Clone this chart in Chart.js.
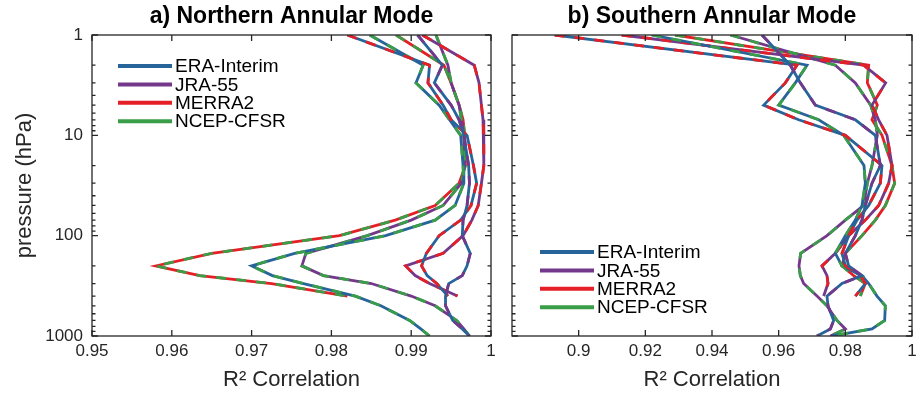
<!DOCTYPE html>
<html>
<head>
<meta charset="utf-8">
<script src="https://cdn.jsdelivr.net/npm/chart.js@4.4.1/dist/chart.umd.min.js"></script>
<style>
    body { margin: 0; background: #fff; }
    #wrap { position: relative; width: 916px; height: 395px; }
    canvas { position: absolute; top: 0; }
    #namChart { left: 0; }
    #samChart { left: 500px; }
</style>
</head>
<body>
<div id="wrap">
    <canvas id="namChart" width="500" height="395"></canvas>
    <canvas id="samChart" width="416" height="395"></canvas>
</div>
<script>
// Pressure levels (hPa), top of the atmosphere first
const levels = [1, 2, 3, 5, 7, 10, 20, 30, 50, 70, 100, 150, 200, 250, 300, 400, 500, 700, 850, 1000];

const reanalyses = ['ERA-Interim', 'JRA-55', 'MERRA2', 'NCEP-CFSR'];
const reanalysisColors = ['#27649a', '#74388b', '#e41f26', '#3a9d47'];

// R^2 of each reanalysis pair, Northern Annular Mode (null = no data)
const namEraJra    = [0.9908, 0.9939, 0.9929, 0.9950, 0.9960, 0.9966, 0.9972, 0.9973, 0.9970, 0.9965, 0.9964, 0.9974, 0.9970, 0.9964, 0.9947, 0.9943, 0.9943, 0.9952, 0.9964, 0.9973];
const namEraMerra  = [0.9820, 0.9923, 0.9921, 0.9940, 0.9950, 0.9970, 0.9978, 0.9982, 0.9975, 0.9962, 0.9935, 0.9919, 0.9913, 0.9920, 0.9932, 0.9946, null, null, null, null];
const namEraNcep   = [0.9848, 0.9915, 0.9906, 0.9935, 0.9948, 0.9962, 0.9965, 0.9966, 0.9955, 0.9930, 0.9868, 0.9754, 0.9700, 0.9726, 0.9765, 0.9830, 0.9862, 0.9898, 0.9912, 0.9923];
const namJraMerra  = [0.9914, 0.9979, 0.9985, 0.9988, 0.9990, 0.9991, 0.9991, 0.9988, 0.9984, 0.9976, 0.9965, 0.9940, 0.9893, 0.9905, 0.9923, 0.9958, null, null, null, null];
const namJraNcep   = [0.9931, 0.9946, 0.9950, 0.9960, 0.9963, 0.9966, 0.9967, 0.9963, 0.9940, 0.9900, 0.9845, 0.9768, 0.9763, 0.9790, 0.9850, 0.9900, 0.9930, 0.9957, 0.9966, 0.9973];
const namMerraNcep = [0.9881, 0.9941, 0.9950, 0.9960, 0.9965, 0.9967, 0.9968, 0.9960, 0.9930, 0.9880, 0.9810, 0.9650, 0.9580, 0.9635, 0.9725, 0.9820, null, null, null, null];

// R^2 of each reanalysis pair, Southern Annular Mode
const samEraJra    = [0.9550, 0.9635, 0.9665, 0.9710, 0.9830, 0.9890, 0.9905, 0.9880, 0.9860, 0.9850, 0.9830, 0.9800, 0.9810, 0.9850, 0.9790, 0.9745, 0.9748, 0.9765, 0.9755, 0.9715];
const samEraMerra  = [0.8928, 0.9655, 0.9620, 0.9555, 0.9660, 0.9800, 0.9910, 0.9905, 0.9870, 0.9835, 0.9810, 0.9790, 0.9800, 0.9845, 0.9860, 0.9830, null, null, null, null];
const samEraNcep   = [0.9219, 0.9685, 0.9650, 0.9600, 0.9720, 0.9795, 0.9856, 0.9860, 0.9850, 0.9830, 0.9800, 0.9770, 0.9790, 0.9850, 0.9870, 0.9895, 0.9920, 0.9918, 0.9880, 0.9760];
const samJraMerra  = [0.9129, 0.9855, 0.9921, 0.9880, 0.9900, 0.9925, 0.9940, 0.9930, 0.9900, 0.9860, 0.9810, 0.9770, 0.9730, 0.9745, 0.9748, 0.9735, null, null, null, null];
const samJraNcep   = [0.9455, 0.9770, 0.9830, 0.9876, 0.9890, 0.9896, 0.9880, 0.9866, 0.9855, 0.9800, 0.9745, 0.9666, 0.9661, 0.9665, 0.9675, 0.9715, 0.9745, 0.9775, 0.9800, 0.9755];
const samMerraNcep = [0.9289, 0.9870, 0.9866, 0.9896, 0.9880, 0.9910, 0.9940, 0.9948, 0.9920, 0.9890, 0.9850, 0.9800, 0.9790, 0.9825, 0.9860, 0.9845, null, null, null, null];

// Axis ticks
const pressureTicks = [1, 10, 100, 1000];
const pressureMinorTicks = [2, 3, 4, 5, 6, 7, 8, 9, 20, 30, 40, 50, 60, 70, 80, 90, 200, 300, 400, 500, 600, 700, 800, 900];
const namTicks = [0.95, 0.96, 0.97, 0.98, 0.99, 1];
const namTickLabels = ['0.95', '0.96', '0.97', '0.98', '0.99', '1'];
const samTicks = [0.9, 0.92, 0.94, 0.96, 0.98, 1];
const samTickLabels = ['0.9', '0.92', '0.94', '0.96', '0.98', '1'];

const FONT = "'Liberation Sans', Arial, Helvetica, sans-serif";
const INK = '#262626';

// One pair -> two datasets. Chart.js paints index 0 last, so the dashed
// second colour goes first and lands on top of the solid first colour.
function pairDatasets(values, a, b) {
    const pts = [];
    values.forEach((v, i) => {
        if (v !== null) pts.push({ x: v, y: levels[i] });
    });
    const base = { borderWidth: 2.8, pointRadius: 0, tension: 0, fill: false, label: reanalyses[a] + ' / ' + reanalyses[b] };
    return [
        Object.assign({}, base, { data: pts.map(p => ({ ...p })), borderColor: reanalysisColors[b], borderDash: [10, 10] }),
        Object.assign({}, base, { data: pts.map(p => ({ ...p })), borderColor: reanalysisColors[a] })
    ];
}

// Box round the plot, with inward ticks on all four sides
const framePlugin = {
    id: 'frame',
    afterDatasetsDraw(chart, args, opts) {
        const { ctx, chartArea: a, scales: { x, y } } = chart;
        ctx.save();
        ctx.strokeStyle = INK;
        ctx.lineWidth = 1.3;
        ctx.strokeRect(a.left, a.top, a.right - a.left, a.bottom - a.top);
        ctx.beginPath();
        opts.xTicks.forEach(v => {
            const px = x.getPixelForValue(v);
            ctx.moveTo(px, a.bottom); ctx.lineTo(px, a.bottom - 6);
            ctx.moveTo(px, a.top); ctx.lineTo(px, a.top + 6);
        });
        pressureTicks.forEach(v => {
            const py = y.getPixelForValue(v);
            ctx.moveTo(a.left, py); ctx.lineTo(a.left + 6, py);
            ctx.moveTo(a.right, py); ctx.lineTo(a.right - 6, py);
        });
        pressureMinorTicks.forEach(v => {
            const py = y.getPixelForValue(v);
            ctx.moveTo(a.left, py); ctx.lineTo(a.left + 3.5, py);
            ctx.moveTo(a.right, py); ctx.lineTo(a.right - 3.5, py);
        });
        ctx.stroke();
        ctx.restore();
    }
};

// Panel title centred over the plot area
const panelTitlePlugin = {
    id: 'panelTitle',
    afterDraw(chart, args, opts) {
        const { ctx, chartArea: a } = chart;
        ctx.save();
        ctx.fillStyle = '#000';
        ctx.font = 'bold 23px ' + FONT;
        ctx.textAlign = 'center';
        ctx.textBaseline = 'middle';
        ctx.fillText(opts.text, (a.left + a.right) / 2, 17);
        ctx.restore();
    }
};

// Legend drawn inside the plot area
const insideLegendPlugin = {
    id: 'insideLegend',
    afterDraw(chart, args, opts) {
        const { ctx, chartArea: a } = chart;
        ctx.save();
        ctx.font = '19px ' + FONT;
        ctx.textBaseline = 'middle';
        ctx.lineWidth = 4;
        reanalyses.forEach((name, i) => {
            const yy = a.top + opts.top + i * 18.4;
            const x0 = a.left + opts.left;
            ctx.strokeStyle = reanalysisColors[i];
            ctx.beginPath();
            ctx.moveTo(x0, yy);
            ctx.lineTo(x0 + 54, yy);
            ctx.stroke();
            ctx.fillStyle = '#000';
            ctx.fillText(name, x0 + 57, yy + 1);
        });
        ctx.restore();
    }
};

function makePanel(canvasId, cfg) {
    const datasets = [].concat(
        pairDatasets(cfg.series[0], 0, 1),
        pairDatasets(cfg.series[1], 0, 2),
        pairDatasets(cfg.series[2], 0, 3),
        pairDatasets(cfg.series[3], 1, 2),
        pairDatasets(cfg.series[4], 1, 3),
        pairDatasets(cfg.series[5], 2, 3)
    );
    return new Chart(document.getElementById(canvasId), {
        type: 'line',
        data: { datasets: datasets },
        plugins: [framePlugin, panelTitlePlugin, insideLegendPlugin],
        options: {
            responsive: false,
            animation: false,
            devicePixelRatio: 1,
            layout: { padding: { top: 35, right: cfg.padRight, bottom: 0, left: 0 } },
            plugins: {
                legend: { display: false },
                tooltip: { enabled: false },
                frame: { xTicks: cfg.xTicks },
                panelTitle: { text: cfg.title },
                insideLegend: cfg.legend
            },
            scales: {
                x: {
                    type: 'linear',
                    position: 'bottom',
                    min: cfg.xMin,
                    max: 1,
                    grid: { display: false, drawTicks: false },
                    border: { display: false },
                    afterBuildTicks: s => { s.ticks = cfg.xTicks.map(v => ({ value: v })); },
                    ticks: {
                        callback: (v, i) => cfg.xTickLabels[i],
                        font: { family: FONT, size: 17 },
                        color: INK,
                        padding: 5,
                        maxRotation: 0,
                        autoSkip: false
                    },
                    title: {
                        display: true,
                        text: 'R² Correlation',
                        font: { family: FONT, size: 22 },
                        color: INK,
                        padding: { top: 0, bottom: 2 }
                    },
                    afterFit: s => { s.height = 59; s.paddingLeft = 0; s.paddingRight = 0; }
                },
                y: {
                    type: 'logarithmic',
                    min: 1,
                    max: 1000,
                    reverse: true,
                    grid: { display: false, drawTicks: false },
                    border: { display: false },
                    afterBuildTicks: s => { s.ticks = pressureTicks.map(v => ({ value: v })); },
                    ticks: {
                        display: cfg.showPressure,
                        callback: v => String(v),
                        font: { family: FONT, size: 17 },
                        color: INK,
                        padding: 9
                    },
                    title: {
                        display: cfg.showPressure,
                        text: 'pressure (hPa)',
                        font: { family: FONT, size: 22 },
                        color: INK,
                        padding: { top: 12, bottom: 0 }
                    },
                    afterFit: s => { s.width = cfg.yWidth; s.paddingTop = 0; s.paddingBottom = 0; }
                }
            }
        }
    });
}

makePanel('namChart', {
    title: 'a) Northern Annular Mode',
    series: [namEraJra, namEraMerra, namEraNcep, namJraMerra, namJraNcep, namMerraNcep],
    xMin: 0.95,
    xTicks: namTicks,
    xTickLabels: namTickLabels,
    showPressure: true,
    yWidth: 92,
    padRight: 9,
    legend: { left: 26, top: 31 }
});

makePanel('samChart', {
    title: 'b) Southern Annular Mode',
    series: [samEraJra, samEraMerra, samEraNcep, samJraMerra, samJraNcep, samMerraNcep],
    xMin: 0.88,
    xTicks: samTicks,
    xTickLabels: samTickLabels,
    showPressure: false,
    yWidth: 12,
    padRight: 4,
    legend: { left: 28, top: 217 }
});
</script>
</body>
</html>
